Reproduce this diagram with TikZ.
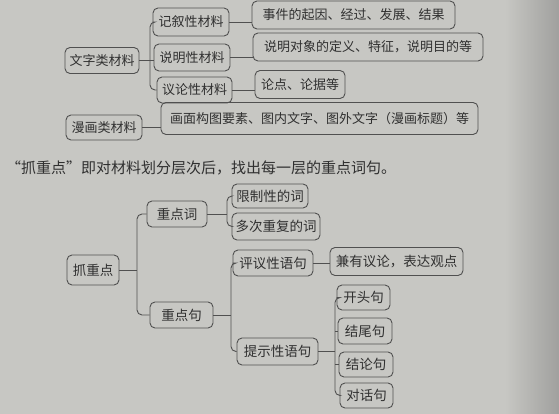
\documentclass[tikz,border=0pt]{standalone}
\usepackage{fontspec}
\newfontfamily\cjk{Noto Sans CJK SC}
\usetikzlibrary{calc}
\definecolor{bg}{HTML}{C7C7C3}
\definecolor{bgdark}{HTML}{A0A09E}
\definecolor{ink}{HTML}{303030}
\definecolor{edge}{HTML}{505050}
\tikzset{
  box/.style={draw=edge, line width=0.9pt, rounded corners=5pt, inner sep=0pt,
    text=ink, align=center},
  topbox/.style 2 args={box, font=\cjk\fontsize{13}{15}\selectfont,
    minimum width=#1pt, minimum height=#2pt},
  botbox/.style 2 args={box, font=\cjk\fontsize{13.5}{15}\selectfont,
    minimum width=#1pt, minimum height=#2pt},
  conn/.style={draw=edge, line width=0.9pt},
}
\begin{document}
\begin{tikzpicture}[x=1pt,y=-1pt]
\fill[bg] (0,0) rectangle (559,414);
\shade[left color=bg, right color=bgdark] (505,0) rectangle (559,414);
\useasboundingbox (0,0) rectangle (559,414);

% top part
\node[topbox={74}{26}] (wz) at (102,60.5) {文字类材料};
\node[topbox={76}{28}] (jx) at (191,22) {记叙性材料};
\node[topbox={76}{27}] (sm) at (192,57.5) {说明性材料};
\node[topbox={75}{26}] (yl) at (194.5,90) {议论性材料};
\node[topbox={203}{28}] (sj) at (353.5,15) {事件的起因、经过、发展、结果};
\node[topbox={230}{28}] (smdx) at (368,47) {说明对象的定义、特征，说明目的等};
\node[topbox={90}{28}] (ld) at (300,84.5) {论点、论据等};
\node[topbox={76}{25}] (mh) at (104,127.5) {漫画类材料};
\node[topbox={317}{32}] (hm) at (319.5,118.5) {画面构图要素、图内文字、图外文字（漫画标题）等};

\coordinate (t1) at (150,60.5);
\draw[conn, rounded corners=5pt] (jx.west) -| (t1) |- (yl.west);
\draw[conn] (wz.east) -- (t1) -- (t1 -| sm.west);
\draw[conn] (jx.east) -- (jx.east -| sj.west);
\draw[conn] (sm.east) -- (sm.east -| smdx.west);
\draw[conn] (yl.east) -- (yl.east -| ld.west);
\draw[conn] (mh.east) -- (mh.east -| hm.west);

% sentence
\node[anchor=west, inner sep=0pt, text=ink, font=\cjk\fontsize{15}{17}\selectfont]
  (sent) at (6,168) {“抓重点”即对材料划分层次后，找出每一层的重点词句。};

% bottom part
\node[botbox={52}{30}] (zd) at (93,270) {抓重点};
\node[botbox={60}{26}] (zdc) at (177,214) {重点词};
\node[botbox={63}{26}] (zdj) at (181.5,315) {重点句};
\node[botbox={76}{24}] (xz) at (270,196) {限制性的词};
\node[botbox={88}{27}] (dc) at (276,226.5) {多次重复的词};
\node[botbox={80}{26}] (py) at (273,263) {评议性语句};
\node[botbox={133}{28}] (jy) at (396.5,261.5) {兼有议论，表达观点};
\node[botbox={81}{27}] (ts) at (277.5,351.5) {提示性语句};
\node[botbox={53}{25}] (kt) at (363.5,297.5) {开头句};
\node[botbox={54}{26}] (jw) at (365,331) {结尾句};
\node[botbox={54}{25}] (jl) at (366,364.5) {结论句};
\node[botbox={53}{25}] (dh) at (366.5,395.5) {对话句};

\coordinate (t2) at (137,270);
\draw[conn, rounded corners=5pt] (zdc.west) -| (t2) |- (zdj.west);
\draw[conn] (zd.east) -- (t2);

\coordinate (t3) at (227,214);
\draw[conn, rounded corners=5pt] (xz.west) -| (t3) |- (dc.west);
\draw[conn] (zdc.east) -- (t3);

\coordinate (t4) at (231,315);
\draw[conn, rounded corners=5pt] (py.west) -| (t4) |- (ts.west);
\draw[conn] (zdj.east) -- (t4);

\draw[conn] (py.east) -- (py.east -| jy.west);

\coordinate (t5) at (335,351.5);
\draw[conn, rounded corners=5pt] (kt.west) -| (t5) |- (dh.west);
\draw[conn] (ts.east) -- (t5);
\draw[conn] (t5 |- jw.west) -- (jw.west);
\draw[conn] (t5 |- jl.west) -- (jl.west);
\end{tikzpicture}
\end{document}
